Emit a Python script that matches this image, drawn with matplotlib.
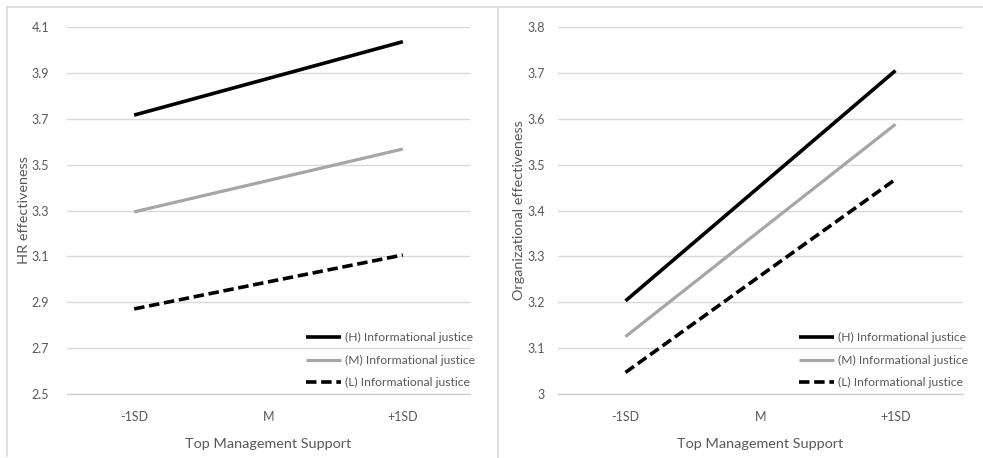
import matplotlib
matplotlib.use("Agg")
import matplotlib.pyplot as plt
from matplotlib.lines import Line2D

plt.rcParams['font.family'] = ['Lato', 'DejaVu Sans']

categories = ["-1SD", "M", "+1SD"]
series_names = ["(H) Informational justice", "(M) Informational justice", "(L) Informational justice"]

hr_high = [3.716, 3.876, 4.036]
hr_mid = [3.294, 3.431, 3.568]
hr_low = [2.871, 2.989, 3.106]
hr_ticks = [2.5, 2.7, 2.9, 3.1, 3.3, 3.5, 3.7, 3.9, 4.1]
hr_ticklabels = ["2.5", "2.7", "2.9", "3.1", "3.3", "3.5", "3.7", "3.9", "4.1"]

org_high = [3.203, 3.454, 3.705]
org_mid = [3.125, 3.357, 3.588]
org_low = [3.047, 3.258, 3.468]
org_ticks = [3.0, 3.1, 3.2, 3.3, 3.4, 3.5, 3.6, 3.7, 3.8]
org_ticklabels = ["3", "3.1", "3.2", "3.3", "3.4", "3.5", "3.6", "3.7", "3.8"]

W, H = 983, 458
fig = plt.figure(figsize=(W / 100, H / 100), dpi=100)
fig.patch.set_facecolor("white")

text_color = "#595959"
grid_color = "#d9d9d9"

def fx(px):
    return px / W

def fy(py):
    return 1 - py / H

styles = [
    dict(color="black", lw=2.6, ls="-"),
    dict(color="#a6a6a6", lw=2.3, ls="-"),
    dict(color="black", lw=2.6, ls=(0, (2.9, 1.3))),
]

def draw(ax_rect, highs, mids, lows, ticks, ticklabels, ylabel, legend_anchor, ypad, ylabel_x):
    ax = fig.add_axes(ax_rect)
    x = list(range(len(categories)))
    for data, st, name in zip([highs, mids, lows], styles, series_names):
        ax.plot(x, data, color=st["color"], lw=st["lw"], ls=st["ls"],
                label=name, solid_capstyle="butt", dash_capstyle="butt")
    ax.set_xlim(-0.5, len(categories) - 0.5)
    ax.set_ylim(ticks[0], ticks[-1])
    ax.set_yticks(ticks)
    ax.set_yticklabels(ticklabels)
    ax.set_xticks(x)
    ax.set_xticklabels(categories)
    ax.grid(axis="y", color=grid_color, lw=1.0)
    ax.set_axisbelow(True)
    for s in ["top", "right", "left"]:
        ax.spines[s].set_visible(False)
    ax.spines["bottom"].set_color("#d0d0d0")
    ax.spines["bottom"].set_linewidth(1.0)
    ax.tick_params(axis="both", length=0, colors=text_color, labelsize=9)
    ax.tick_params(axis="y", pad=ypad)
    ax.tick_params(axis="x", pad=12)
    ax.set_xlabel("Top Management Support", color=text_color, fontsize=10.4, labelpad=11)
    ax.set_ylabel(ylabel, color=text_color, fontsize=10.4)
    ax.yaxis.set_label_coords(ylabel_x, 0.5)
    leg = ax.legend(loc="upper left", bbox_to_anchor=legend_anchor, frameon=False,
                    fontsize=8.7, handlelength=2.9, handletextpad=0.35,
                    labelspacing=0.95, borderpad=0, borderaxespad=0)
    for t in leg.get_texts():
        t.set_color(text_color)
    return ax

ax1 = draw([fx(67), fy(394), fx(470 - 67), (394 - 27) / H],
           hr_high, hr_mid, hr_low, hr_ticks, hr_ticklabels,
           "HR effectiveness", (0.593, 0.168), 13, -0.092)
ax2 = draw([fx(558), fy(394), fx(963 - 558), (394 - 27) / H],
           org_high, org_mid, org_low, org_ticks, org_ticklabels,
           "Organizational effectiveness", (0.595, 0.168), 9.5, -0.081)

border = "#d9d9d9"
fig.add_artist(Line2D([fx(7), 1], [fy(7), fy(7)], color=border, lw=1.2, transform=fig.transFigure))
fig.add_artist(Line2D([fx(7), fx(7)], [fy(7), fy(456)], color=border, lw=1.2, transform=fig.transFigure))
fig.add_artist(Line2D([fx(498), fx(498)], [fy(7), 0], color=border, lw=1.2, transform=fig.transFigure))

fig.savefig("out.png", dpi=100, facecolor="white")
